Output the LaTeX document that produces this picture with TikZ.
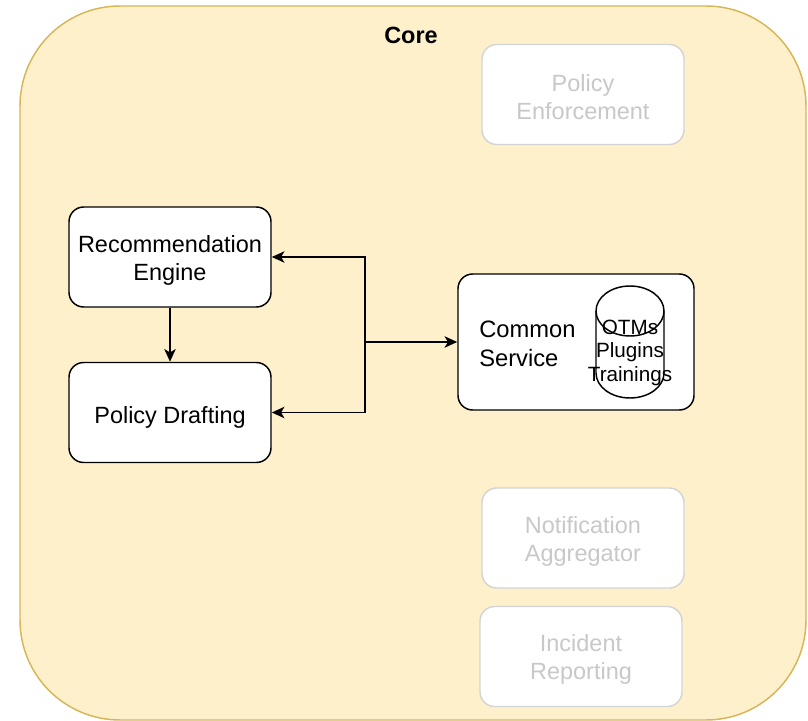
\documentclass[tikz,border=0pt]{standalone}
\usepackage{fontspec}
\setmainfont{Liberation Sans}
\usetikzlibrary{arrows.meta}
\definecolor{corefill}{HTML}{FFF0CC}
\definecolor{coredraw}{HTML}{D6B656}
\definecolor{fadetext}{HTML}{C8C8C8}
\definecolor{fadedraw}{HTML}{D4D4D4}
\tikzset{
  box/.style={draw=black, fill=white, line width=1.1pt, rounded corners=11pt,
    minimum width=151.5pt, minimum height=75pt, inner sep=0pt},
  boxtext/.style={align=center, inner sep=0pt, yshift=-2.2pt,
    font=\fontsize{17.6}{21}\selectfont},
  fadebox/.style={box, draw=fadedraw},
  fadetxt/.style={boxtext, text=fadetext},
  arr/.style={draw=black, line width=1.4pt, -{Stealth[length=9.5pt,width=8.5pt,inset=2.5pt]}},
}
\begin{document}
\begin{tikzpicture}[x=0.75pt,y=0.75pt]
\useasboundingbox (0,0) rectangle (808,-721);
% container
\draw[fill=corefill, draw=coredraw, line width=1.1pt, rounded corners=75pt]
  (20,-6) rectangle (806,-720);
\node[font=\fontsize{17.6}{21}\selectfont\bfseries] (core) at (411,-35.5) {Core};
% faded boxes
\node[fadebox, label={[fadetxt]center:{Policy\\Enforcement}}] (pe) at (583,-94.5) {};
\node[fadebox, label={[fadetxt]center:{Notification\\Aggregator}}] (na) at (583,-538) {};
\node[fadebox, label={[fadetxt]center:{Incident\\Reporting}}] (ir) at (581,-656.5) {};
% main boxes
\node[box, label={[boxtext]center:{Recommendation\\Engine}}] (re) at (170,-257) {};
\node[box, label={[boxtext, yshift=-1.5pt]center:{Policy Drafting}}] (pd) at (170,-412.5) {};
\node[box, minimum width=177pt, minimum height=102pt] (cs) at (576,-342) {};
\node[anchor=west, align=left, inner sep=0pt, font=\fontsize{17.8}{21.5}\selectfont] (cst) at (479,-344) {Common\\Service};
% cylinder
\draw[fill=white, line width=1.1pt]
  (596,-311) -- (596,-373) arc[start angle=180, end angle=360, x radius=34, y radius=25]
  -- (664,-311) arc[start angle=0, end angle=180, x radius=34, y radius=25] -- cycle;
\draw[line width=1.1pt] (596,-311) arc[start angle=180, end angle=360, x radius=34, y radius=25];
\node[align=center, inner sep=0pt, font=\fontsize{15.5}{17.6}\selectfont] (db) at (630,-352.5) {OTMs\\Plugins\\Trainings};
% connectors
\coordinate (j) at (365,-342);
\draw[arr] (re.south) -- (pd.north);
\draw[arr] (j) -- (cs.west);
\draw[arr] (j) |- (re.east);
\draw[arr] (j) |- (pd.east);
\end{tikzpicture}
\end{document}
